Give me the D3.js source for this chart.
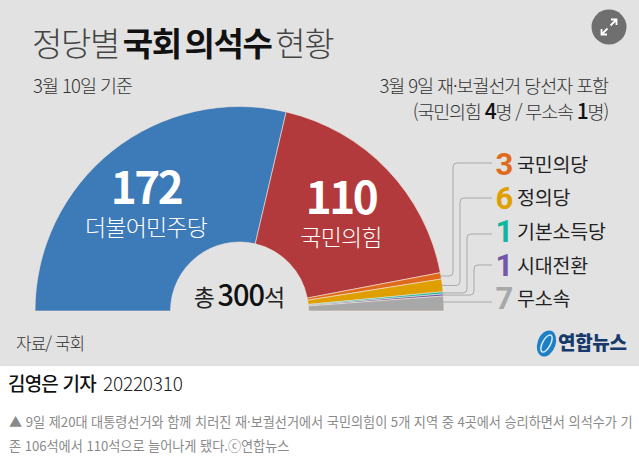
<!DOCTYPE html>
<html lang="ko">
<head>
<meta charset="utf-8">
<script src="https://cdn.jsdelivr.net/npm/d3@7/dist/d3.min.js"></script>
<style>
html,body{margin:0;padding:0;background:#fff}
svg{display:block}
text{font-family:"Noto Sans CJK KR","Noto Sans",sans-serif}
text.digit{font-family:Roboto,"Noto Sans",sans-serif}
</style>
</head>
<body>
<svg id="chart" width="639" height="465"></svg>
<script>
// Seats per party in the National Assembly, left to right around the hemicycle
const parties = ["더불어민주당", "국민의힘", "국민의당", "정의당", "기본소득당", "시대전환", "무소속"];
const seats = [172, 110, 3, 6, 1, 1, 7];
const colors = ["#3d7ab8", "#b23a3c", "#e06a1b", "#e09f00", "#12b5a0", "#7259a8", "#a8a8a8"];

const totalSeats = d3.sum(seats);
const svg = d3.select("#chart");

svg.append("rect").attr("width", 639).attr("height", 366).attr("fill", "#e2e2e2");

const cx = 239.5, cy = 311, outerR = 204.5, innerR = 69;
const pie = d3.pie().sort(null).startAngle(-Math.PI / 2).endAngle(Math.PI / 2);
const arcs = pie(seats);
const arc = d3.arc().innerRadius(innerR).outerRadius(outerR);

const hemi = svg.append("g").attr("transform", `translate(${cx},${cy})`);
hemi.selectAll("path").data(arcs).join("path")
  .attr("d", arc)
  .attr("fill", (d, i) => colors[i])
  .attr("stroke", "#f1e6dc")
  .attr("stroke-width", 0.6);

function text(x, y, str, size, opts = {}) {
  return svg.append("text")
    .attr("x", x).attr("y", y)
    .attr("class", opts.cls || null)
    .attr("font-size", size)
    .attr("font-weight", opts.weight || 400)
    .attr("fill", opts.fill || "#222")
    .attr("text-anchor", opts.anchor || "start")
    .attr("letter-spacing", opts.spacing ?? -0.6)
    .text(str);
}

// Heading with a heavier middle run
const title = svg.append("text").attr("x", 32).attr("y", 56).attr("font-size", 33)
  .attr("letter-spacing", -1.4).attr("word-spacing", -4);
title.append("tspan").attr("font-weight", 300).attr("fill", "#444").text("정당별 ");
title.append("tspan").attr("font-weight", 700).attr("fill", "#111").text("국회 의석수");
title.append("tspan").attr("font-weight", 300).attr("fill", "#444").text(" 현황");

text(33, 93, "3월 10일 기준", 18.5, {weight: 300, fill: "#333", spacing: -1});
text(608, 93, "3월 9일 재·보궐선거 당선자 포함", 18.5, {weight: 300, fill: "#333", anchor: "end", spacing: -1.1});

const note = svg.append("text").attr("x", 608).attr("y", 119).attr("font-size", 18.5)
  .attr("text-anchor", "end").attr("letter-spacing", -1.2).attr("fill", "#333").attr("font-weight", 300);
note.append("tspan").text("(국민의힘 ");
note.append("tspan").attr("font-weight", 500).attr("fill", "#111").attr("font-size", 21).text("4");
note.append("tspan").text("명 / 무소속 ");
note.append("tspan").attr("font-weight", 500).attr("fill", "#111").attr("font-size", 21).text("1");
note.append("tspan").text("명)");

// Labels inside the two large wedges
text(146, 204, seats[0], 44, {weight: 700, fill: "#fff", anchor: "middle", spacing: -2.5});
text(146, 236, parties[0], 23, {weight: 300, fill: "#fff", anchor: "middle", spacing: -0.8});
text(341, 214, seats[1], 44, {weight: 700, fill: "#fff", anchor: "middle", spacing: -2.5});
text(341, 246, parties[1], 23, {weight: 300, fill: "#fff", anchor: "middle", spacing: -0.8});

// Total in the hole of the hemicycle
const total = svg.append("text").attr("x", 239).attr("y", 306).attr("text-anchor", "middle")
  .attr("fill", "#222").attr("font-size", 23).attr("letter-spacing", -1).attr("word-spacing", -2);
total.append("tspan").text("총 ");
total.append("tspan").attr("font-weight", 500).attr("font-size", 29).attr("fill", "#111").text(totalSeats);
total.append("tspan").text("석");

// Small parties: legend rows with elbow leader lines into their wedges
const rowY = [163, 198, 234, 265, 302];
const numberY = [175, 209, 242, 276, 309];
const nameY = [172, 205, 239, 273, 306];
const elbowX = [453, 460, 467, 474, null];
const small = arcs.slice(2);
const leaders = svg.append("g").attr("fill", "none").attr("stroke", "#a9a9a9").attr("stroke-width", 1);
small.forEach((d, i) => {
  const a = (d.startAngle + d.endAngle) / 2 - Math.PI / 2;
  const r = outerR - 1;
  const ex = cx + r * Math.cos(a);
  const ey = i === 4 ? rowY[4] : cy + r * Math.sin(a);
  const row = rowY[i];
  const path = d3.path();
  path.moveTo(492, row);
  if (elbowX[i] !== null) {
    const x = elbowX[i];
    path.lineTo(x + 4, row);
    path.quadraticCurveTo(x, row, x, row + 4);
    path.lineTo(x, ey - 4);
    path.quadraticCurveTo(x, ey, x - 4, ey);
  }
  path.lineTo(ex, ey);
  leaders.append("path").attr("d", path.toString());

  text(504.5, numberY[i], seats[i + 2], 31, {cls: "digit", weight: 700, fill: colors[i + 2], anchor: "middle", spacing: 0});
  text(517, nameY[i], parties[i + 2], 19.5, {weight: 400, fill: "#222", spacing: -0.2});
});

text(16, 350, "자료/ 국회", 17, {weight: 300, fill: "#333", spacing: -1});

// Agency mark
const logo = svg.append("g").attr("transform", "translate(546.5,343.5)");
logo.append("ellipse").attr("rx", 9).attr("ry", 13.5).attr("transform", "rotate(20)").attr("fill", "#1f7fc4");
logo.append("ellipse").attr("rx", 4).attr("ry", 9.5).attr("transform", "rotate(28)")
  .attr("fill", "none").attr("stroke", "#d6ebf7").attr("stroke-width", 1.5);
text(558, 349.5, "연합뉴스", 19, {weight: 900, fill: "#163a6b", spacing: -0.3});

// Expand button
const btn = svg.append("g").attr("transform", "translate(609,27)");
btn.append("circle").attr("r", 17.5).attr("fill", "#6f6f6f");
btn.append("path").attr("fill", "none").attr("stroke", "#fff").attr("stroke-width", 1.8)
  .attr("d", "M-7.5,7.5L-1.5,1.5M-7.5,2V7.5H-2M7.5,-7.5L1.5,-1.5M2,-7.5H7.5V-2");

// Byline and caption
text(8, 391, "김영은 기자", 19, {weight: 500, fill: "#111", spacing: -0.8});
text(103, 391, "20220310", 19, {weight: 300, fill: "#222", spacing: -0.2});
text(9, 427, "▲ 9일 제20대 대통령선거와 함께 치러진 재·보궐선거에서 국민의힘이 5개 지역 중 4곳에서 승리하면서 의석수가 기", 13.2, {weight: 400, fill: "#8a8a8a", spacing: -0.05});
text(9, 451, "존 106석에서 110석으로 늘어나게 됐다.ⓒ연합뉴스", 13.2, {weight: 400, fill: "#8a8a8a", spacing: -0.05});
</script>
</body>
</html>
